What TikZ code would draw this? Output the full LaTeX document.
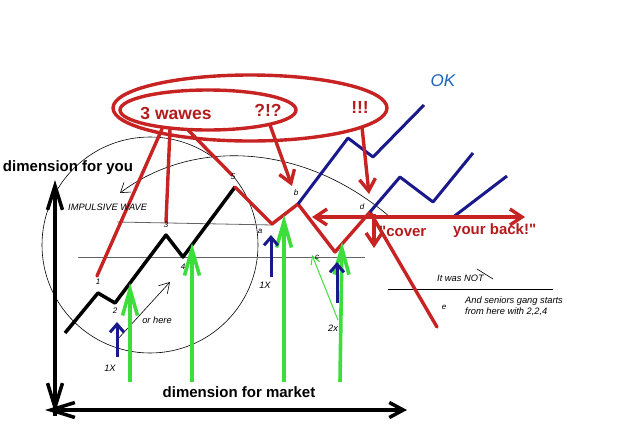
\documentclass[tikz,border=0pt]{standalone}
\usepackage{fontspec}
\setmainfont{Liberation Sans}
\usetikzlibrary{arrows.meta}
\newcommand{\dq}{\XeTeXglyph\XeTeXcharglyph"22\relax}
\definecolor{rl}{RGB}{200,35,35}
\definecolor{rt}{RGB}{178,28,28}
\definecolor{gr}{RGB}{60,222,60}
\definecolor{bl}{RGB}{25,25,140}
\definecolor{okb}{RGB}{30,100,180}
\definecolor{gl}{RGB}{100,100,100}
\begin{document}
\begin{tikzpicture}[x=1pt,y=-1pt,
  redl/.style={rl,line width=3.4pt,line cap=round,line join=round},
  redarr/.style={redl,line cap=butt,-{Straight Barb[length=12pt,width=16pt]}},
  blk/.style={black,line width=3.5pt,line join=round},
  axis/.style={black,line width=3.5pt},
  axtip/.style={-{Straight Barb[length=24pt,width=15pt]}},
  grn/.style={gr,line width=3.6pt,-{Straight Barb[length=26pt,width=15pt]}},
  blu/.style={bl,line width=3pt,-{Straight Barb[length=8pt,width=14pt]}},
  thinl/.style={black,line width=0.6pt},
  grayl/.style={gl,line width=0.8pt},
  lab/.style={font=\fontsize{8}{9}\selectfont\itshape,inner sep=0pt},
  smt/.style={font=\fontsize{9.3}{11}\selectfont\itshape,inner sep=0pt},
  bigt/.style={font=\fontsize{15}{18}\selectfont\bfseries,inner sep=0pt},
  redt/.style={rt,font=\fontsize{17.5}{20}\selectfont\bfseries,inner sep=0pt},
  covt/.style={rt,font=\fontsize{15}{18}\selectfont\bfseries,inner sep=0pt}]
\useasboundingbox (0,0) rectangle (625,440);
\fill[white] (0,0) rectangle (625,440);

% points of the wave
\coordinate (p0) at (65,333);
\coordinate (p1) at (98,293);
\coordinate (p2) at (115,303);
\coordinate (p3) at (166,235);
\coordinate (p4) at (183,257);
\coordinate (p5) at (235,187);
\coordinate (pa) at (272,224);
\coordinate (pb) at (298,204);
\coordinate (pc) at (335,252);
\coordinate (pd) at (370,212);
\coordinate (pe) at (437,327);

% thin construction lines
\draw[thinl] (150,245) circle [radius=108];
\coordinate (arcS) at (120,193);
\coordinate (arcE) at (390,217);
\draw[thinl,{Straight Barb[length=9pt,width=12pt]}-] (arcS) .. controls (190,140) and (300,140) .. (arcE);
\draw[grayl] (117,222) -- (273,225);
\draw[grayl] (78,257) -- (365,257);
\draw[thinl] (388,289) -- (553,289);
\draw[thinl] (477,269) -- (493,279);
\coordinate (orS) at (117,340);
\coordinate (orE) at (170,282);
\draw[thinl,-{Straight Barb[length=10pt,width=12pt]}] (orS) -- (orE);

% axes
\coordinate (O) at (55,410);
\coordinate (ytop) at (55,180);
\coordinate (xl) at (45,410);
\coordinate (xr) at (407,410);
\draw[axis,axtip] (55,416) -- (ytop);
\draw[axis,axtip] (55,385) -- (55,413);
\draw[axis,{Straight Barb[length=24pt,width=15pt]}-{Straight Barb[length=14pt,width=15pt]}] (xl) -- (xr);

% black impulsive wave
\draw[blk] (p0) -- (p1) -- (p2) -- (p3) -- (p4) -- (p5);
% red correction
\draw[redl] (p5) -- (pa) -- (pb) -- (pc) -- (pd) -- (pe);

% blue OK waves
\draw[bl,line width=3pt,line join=round] (pb) -- (348,138) -- (373,157) -- (424,105);
\draw[bl,line width=3pt,line join=round] (pd) -- (400,177) -- (433,202) -- (473,153);
\draw[bl,line width=3pt] (452,218) -- (507,176);
\draw[bl,line width=2.5pt] (418,216) -- (432,216);

% red arrows
\coordinate (hl) at (312,217);
\coordinate (hr) at (525,217);
\draw[redl,line cap=butt,{Straight Barb[length=12pt,width=16pt]}-{Straight Barb[length=12pt,width=16pt]}] (hl) -- (hr);
\coordinate (dn) at (374,248);
\draw[redarr] (374,214) -- (dn);

% ellipses and texts
\draw[redl] (250,108) ellipse [x radius=137, y radius=33];
\draw[redl] (208,110) ellipse [x radius=88, y radius=20];
\node[redt] (w3) at (176,113) {3 wawes};
\node[redt] (qq) at (268,110) {?!?};
\node[redt] (ex) at (360,107) {!!!};

\coordinate (s1) at (162,129);
\coordinate (s3) at (170,129);
\coordinate (s5) at (188,130);
\coordinate (sq) at (270,125);
\coordinate (sx) at (362,127);
\coordinate (e1) at (97,276);
\coordinate (e3) at (166,222);
\coordinate (e5) at (232,175);
\coordinate (eb) at (292,186);
\coordinate (ed) at (369,194);
\draw[redl] (s1) -- (e1);
\draw[redl] (s3) -- (e3);
\draw[redl] (s5) -- (e5);
\draw[redarr] (sq) -- (eb);
\draw[redarr] (sx) -- (ed);

% green arrows
\draw[grn] (130,382) -- (130,283);
\draw[grn] (192,382) -- (192,243);
\draw[grn] (284,382) -- (284,215);
\draw[grn] (340,382) -- (342,242);
\coordinate (g2s) at (338,320);
\coordinate (g2e) at (312,255);
\draw[gr,line width=1pt,-{Straight Barb[length=8pt,width=9pt]}] (g2s) -- (g2e);

% blue arrows
\draw[blu] (117,357) -- (117,322);
\draw[blu] (271,277) -- (271,235);
\draw[blu] (337,303) -- (337,262);

% labels
\node[lab] (l1) at (98,282) {1};
\node[lab] (l2) at (115,311) {2};
\node[lab] (l3) at (166,225) {3};
\node[lab] (l4) at (183,267) {4};
\node[lab] (l5) at (233,177) {5};
\node[lab] (la) at (260,231) {a};
\node[lab] (lb) at (296,193) {b};
\node[lab] (lc) at (317,257) {c};
\node[lab] (ld) at (362,207) {d};
\node[lab] (le) at (444,307) {e};
\node[smt] (x1) at (110,368) {1X};
\node[smt] (x2) at (265,285) {1X};
\node[smt] (x3) at (333,328) {2x};
\node[smt] (orh) at (157,320) {or here};
\node[smt,anchor=west] (imp) at (68,207) {IMPULSIVE WAVE};
\node[smt,anchor=west] (nt) at (437,278) {It was NOT};
\node[smt,anchor=west,align=left] (sen) at (465,306) {And seniors gang starts\\from here with 2,2,4};
\node[okb,font=\fontsize{17}{20}\selectfont\itshape,inner sep=0pt] (ok) at (443,81) {OK};
\node[bigt] (dfy) at (68,168) {dimension for you};
\node[bigt] (dfm) at (239,392) {dimension for market};
\node[covt,anchor=west] (cv) at (379,231) {\dq cover};
\node[covt,anchor=west] (yb) at (453,231) {your back!\dq};
\end{tikzpicture}
\end{document}
